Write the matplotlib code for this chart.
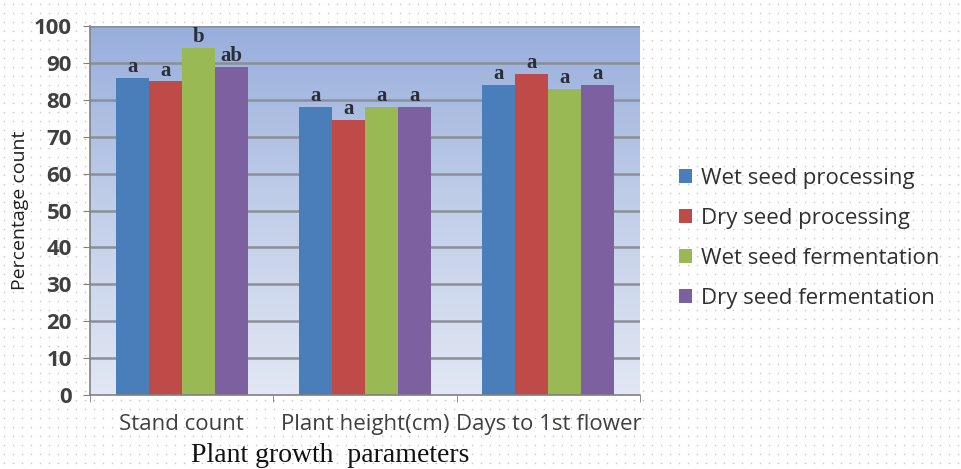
import numpy as np
import matplotlib.pyplot as plt
from matplotlib.colors import LinearSegmentedColormap

categories = ['Stand count', 'Plant height(cm)', 'Days to 1st flower']
series = ['Wet seed processing', 'Dry seed processing',
          'Wet seed fermentation', 'Dry seed fermentation']
wet_proc = [86, 78, 84]
dry_proc = [85, 74.5, 87]
wet_ferm = [94, 78, 83]
dry_ferm = [89, 78, 84]
letters = [['a', 'a', 'a'], ['a', 'a', 'a'], ['b', 'a', 'a'], ['ab', 'a', 'a']]
colors = ['#4a7ebb', '#be4b48', '#98b954', '#7d60a0']

values = [wet_proc, dry_proc, wet_ferm, dry_ferm]

fig = plt.figure(figsize=(9.61, 4.69), dpi=100)
fig.patch.set_facecolor('white')

# dotted paper background
bg = fig.add_axes([0, 0, 1, 1], zorder=-10)
gx, gy = np.meshgrid(np.arange(4, 961, 9), np.arange(4, 469, 9))
bg.scatter(gx.ravel(), gy.ravel(), s=1.2, color='#b8c4d6', lw=0)
bg.set_xlim(0, 961)
bg.set_ylim(469, 0)
bg.axis('off')

ax = fig.add_axes([90 / 961, 74 / 469, 550 / 961, 369 / 469])
ax.set_xlim(-0.5, 2.5)
ax.set_ylim(0, 100)

# gradient fill of the plot area
grad = np.linspace(0, 1, 256).reshape(-1, 1)
cmap = LinearSegmentedColormap.from_list('g', ['#e1e7f4', '#c2cfe9', '#98aedb'])
ax.imshow(grad, extent=(-0.5, 2.5, 0, 100), origin='lower', aspect='auto',
          cmap=cmap, zorder=0)

for y in range(10, 101, 10):
    ax.axhline(y, color='#8a8f99', lw=1.8, zorder=1)

x = np.arange(len(categories))
w = 0.18
for i, (vals, c, lab) in enumerate(zip(values, colors, series)):
    pos = x + (i - 1.5) * w
    ax.bar(pos, vals, w, color=c, label=lab, zorder=2)
    for p, v, t in zip(pos, vals, letters[i]):
        ax.text(p, v + 0.2, t, ha='center', va='bottom', fontsize=15,
                fontweight='bold', family='Liberation Serif', color='#2a2e3a')

ax.set_yticks(range(0, 101, 10))
ax.set_xticks(x)
ax.set_xticklabels(categories)
ax.set_xticks([-0.5, 0.5, 1.5, 2.5], minor=True)
ax.tick_params(axis='x', which='major', length=0, pad=14)
ax.tick_params(axis='x', which='minor', length=5, color='#808080')
ax.tick_params(axis='y', length=5, color='#808080', pad=8)
for lbl in ax.get_xticklabels():
    lbl.set_family('Open Sans')
    lbl.set_fontsize(16)
    lbl.set_color('#404040')
for lbl in ax.get_yticklabels():
    lbl.set_family('Open Sans')
    lbl.set_fontsize(16)
    lbl.set_fontweight('bold')
    lbl.set_color('#404040')
for s in ['top', 'right']:
    ax.spines[s].set_visible(False)
for s in ['left', 'bottom']:
    ax.spines[s].set_color('#808080')
    ax.spines[s].set_linewidth(1.2)

ax.set_ylabel('Percentage count', family='Open Sans', fontsize=14, color='#202020')
ax.yaxis.set_label_coords(-0.11, 0.5)
fig.text(330 / 961, 1 - 455 / 469, 'Plant growth  parameters', ha='center', va='center',
         family='Liberation Serif', fontsize=20, color='#111111')

leg = ax.legend(loc='center left', bbox_to_anchor=(1.055, 0.425), frameon=False,
                prop={'family': 'Open Sans', 'size': 16}, handlelength=0.6,
                handleheight=0.6, labelspacing=0.85, handletextpad=0.4,
                borderaxespad=0)
for t in leg.get_texts():
    t.set_color('#303030')

fig.savefig('out.png', dpi=100)
